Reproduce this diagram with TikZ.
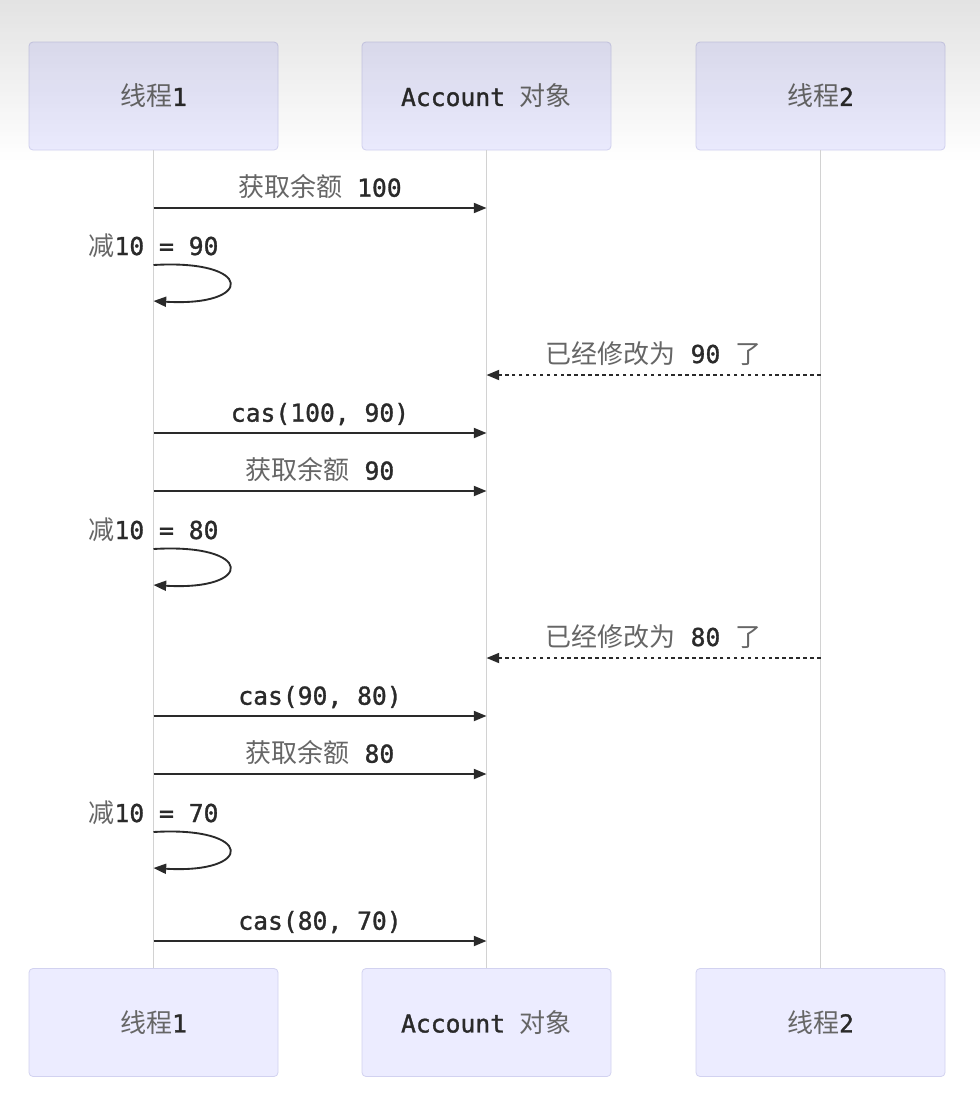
\documentclass[tikz,border=0pt]{standalone}
\usepackage{fontspec}
\setmonofont{DejaVu Sans Mono}[FakeBold=1.2]
\newfontfamily\cjk{Noto Sans CJK SC}
\usetikzlibrary{arrows.meta}
\definecolor{actorfill}{HTML}{ECECFF}
\definecolor{actorline}{HTML}{D2D2F0}
\definecolor{msgline}{HTML}{2A2A2A}
\definecolor{cjkgray}{HTML}{666666}
\definecolor{lifegray}{HTML}{D2D2D2}
\tikzset{
	actor/.style={draw=actorline, fill=actorfill, rounded corners=3pt, line width=0.6pt,
		minimum width=186.75pt, minimum height=81pt, text=msgline, font=\fontsize{18.5}{22}\selectfont\ttfamily},
	lifeline/.style={draw=lifegray, line width=0.7pt},
	msg/.style={draw=msgline, line width=1.4pt, -{Triangle[length=9.5pt,width=7.5pt]}},
	reply/.style={msg, dash pattern={on 2.6pt off 2.6pt}},
	lbl/.style={inner sep=0pt, anchor=base, text=msgline, font=\fontsize{18.5}{22}\selectfont\ttfamily},
}
\newcommand{\zh}[1]{{\cjk\fontsize{19.5}{22}\selectfont\color{cjkgray}#1}}
\begin{document}
\begin{tikzpicture}[x=0.75pt,y=0.75pt,yscale=-1,xscale=1]
	\useasboundingbox (0,0) rectangle (980,1104);
	\fill[white] (0,0) rectangle (980,1104);
	% actors
	\node[actor] (t1top) at (153.5,96) {\zh{线程}1};
	\node[actor] (acctop) at (486.5,96) {Account \zh{对象}};
	\node[actor] (t2top) at (820.5,96) {\zh{线程}2};
	\node[actor] (t1bot) at (153.5,1022.5) {\zh{线程}1};
	\node[actor] (accbot) at (486.5,1022.5) {Account \zh{对象}};
	\node[actor] (t2bot) at (820.5,1022.5) {\zh{线程}2};
	% grey haze over the top
	\foreach \i in {0,...,39}
		\fill[black, opacity={0.11*(1-\i/40)}] (0,4*\i) rectangle (980,4*\i+4);
	% lifelines
	\draw[lifeline] (t1top) -- (t1bot);
	\draw[lifeline] (acctop) -- (accbot);
	\draw[lifeline] (t2top) -- (t2bot);
	% round 1
	\draw[msg] (t1top |- 0,208) -- (acctop |- 0,208) node[lbl, midway, yshift=8.5pt] (get1) {\zh{获取余额} 100};
	\node[lbl] (sub1) at (t1top |- 0,255) {\zh{减}10 = 90};
	\draw[msg] (t1top |- 0,265) .. controls +(101,-6) and +(101,6) .. (t1top |- 0,301);
	\draw[reply] (t2top |- 0,375) -- (acctop |- 0,375) node[lbl, midway, yshift=9pt] (mod1) {\zh{已经修改为} 90 \zh{了}};
	\draw[msg] (t1top |- 0,433) -- (acctop |- 0,433) node[lbl, midway, yshift=8.5pt] (cas1) {cas(100, 90)};
	% round 2
	\draw[msg] (t1top |- 0,491) -- (acctop |- 0,491) node[lbl, midway, yshift=8.5pt] (get2) {\zh{获取余额} 90};
	\node[lbl] (sub2) at (t1top |- 0,539) {\zh{减}10 = 80};
	\draw[msg] (t1top |- 0,549) .. controls +(101,-6) and +(101,6) .. (t1top |- 0,585);
	\draw[reply] (t2top |- 0,658) -- (acctop |- 0,658) node[lbl, midway, yshift=9pt] (mod2) {\zh{已经修改为} 80 \zh{了}};
	\draw[msg] (t1top |- 0,716) -- (acctop |- 0,716) node[lbl, midway, yshift=8.5pt] (cas2) {cas(90, 80)};
	% round 3
	\draw[msg] (t1top |- 0,774) -- (acctop |- 0,774) node[lbl, midway, yshift=8.5pt] (get3) {\zh{获取余额} 80};
	\node[lbl] (sub3) at (t1top |- 0,822) {\zh{减}10 = 70};
	\draw[msg] (t1top |- 0,832) .. controls +(101,-6) and +(101,6) .. (t1top |- 0,868);
	\draw[msg] (t1top |- 0,941) -- (acctop |- 0,941) node[lbl, midway, yshift=8.5pt] (cas3) {cas(80, 70)};
\end{tikzpicture}
\end{document}
